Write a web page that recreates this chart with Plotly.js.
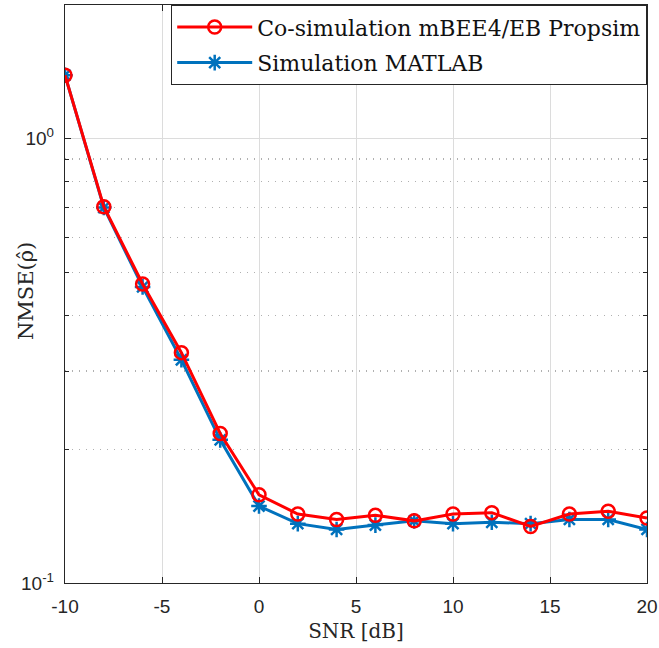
<!DOCTYPE html>
<html><head><meta charset="utf-8">
<script src="https://cdn.plot.ly/plotly-3.0.1.min.js"></script>
<style>html,body{margin:0;padding:0;background:#fff}#g{width:659px;height:648px}</style>
</head><body><div id="g"></div>
<script>
const snr = [-10,-8,-6,-4,-2,0,2,4,6,8,10,12,14,16,18,20];
const cosim = [1.39,0.703,0.471,0.330,0.217,0.158,0.143,0.139,0.142,0.138,0.143,0.144,0.134,0.143,0.145,0.140];
const matlab = [1.39,0.700,0.464,0.318,0.210,0.149,0.136,0.132,0.135,0.138,0.136,0.137,0.136,0.139,0.139,0.132];
const seriesNames = ['Co-simulation mBEE4/EB Propsim','Simulation MATLAB'];
const xTicks = [-10,-5,0,5,10,15,20];
const yTicks = [0.1, 1];
const yTickText = ['10<sup>-1</sup>', '10<sup>0</sup>'];
const yMinor = [0.2,0.3,0.4,0.5,0.6,0.7,0.8,0.9];
const xTitle = 'SNR [dB]';
const yTitle = 'NMSE(ρ̂)';

const traces = [
  {x: snr, y: matlab, name: seriesNames[1], mode: 'lines+markers', type: 'scatter',
   legendgroup: 'b', legendrank: 2,
   line: {color: '#0072BD', width: 3},
   marker: {symbol: 'asterisk-open', size: 13, color: '#0072BD', line: {color: '#0072BD', width: 2.5}}},
  {x: snr, y: cosim, name: seriesNames[0], mode: 'lines+markers', type: 'scatter',
   legendgroup: 'a', legendrank: 1,
   line: {color: '#FF0000', width: 3},
   marker: {symbol: 'circle-open', size: 13, color: '#FF0000', line: {color: '#FF0000', width: 2.5}}}
];

const tickFont = {family: 'Liberation Sans, Arial, sans-serif', size: 19, color: '#262626'};
const serif = 'DejaVu Serif, serif';

const layout = {
  width: 659, height: 648,
  margin: {l: 65, r: 12, t: 5, b: 65},
  paper_bgcolor: '#fff', plot_bgcolor: '#fff',
  showlegend: true,
  legend: {x: 1, xanchor: 'right', y: 1, yanchor: 'top', bgcolor: '#fff',
           bordercolor: '#262626', borderwidth: 1.2,
           font: {family: serif, size: 22, color: '#111'}, traceorder: 'grouped',
           tracegroupgap: 4, itemwidth: 75},
  xaxis: {
    range: [-10, 20], tickvals: xTicks, ticktext: xTicks.map(String),
    ticks: 'inside', ticklen: 6, tickcolor: '#262626', showline: true, linecolor: '#262626', linewidth: 1.2,
    mirror: 'ticks', showgrid: true, gridcolor: '#dcdcdc', gridwidth: 1, zeroline: false,
    tickfont: tickFont, ticklabelstandoff: 6,
    title: {text: xTitle, font: {family: serif, size: 20, color: '#262626'}, standoff: 8}
  },
  yaxis: {
    type: 'log', range: [-1, 0.301], tickvals: yTicks, ticktext: yTickText,
    ticks: 'inside', ticklen: 6, tickcolor: '#262626', showline: true, linecolor: '#262626', linewidth: 1.2,
    mirror: 'ticks', showgrid: true, gridcolor: '#dcdcdc', gridwidth: 1, zeroline: false,
    tickfont: tickFont, ticklabelstandoff: 6,
    minor: {tickmode: 'array', tickvals: yMinor, ticks: 'inside', ticklen: 4, tickcolor: '#262626', showgrid: true,
            gridcolor: '#b0b0b0', griddash: '1px,6px', gridwidth: 1.2}
  },
  annotations: [
    {text: yTitle, textangle: -90, xref: 'paper', yref: 'paper', x: -0.067, y: 0.505,
     xanchor: 'center', yanchor: 'middle', showarrow: false,
     font: {family: serif, size: 21, color: '#262626'}}
  ]
};

Plotly.newPlot('g', traces, layout, {displayModeBar: false, staticPlot: true});
</script></body></html>
